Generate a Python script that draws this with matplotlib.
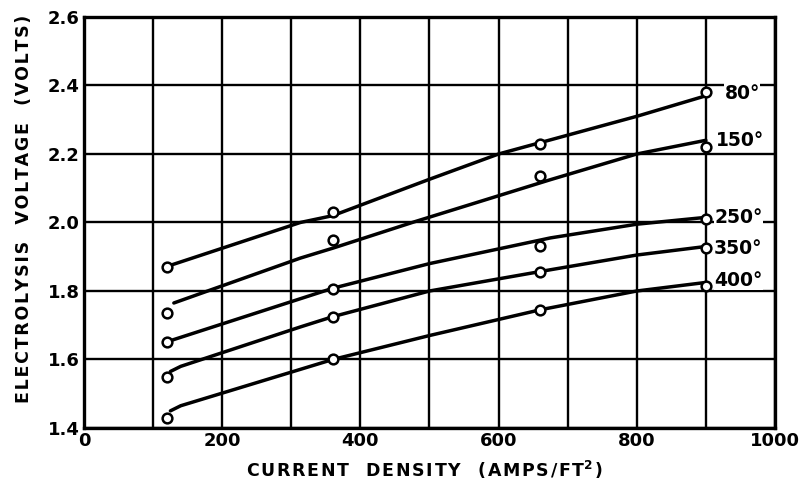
import matplotlib
matplotlib.use('Agg')
import matplotlib.pyplot as plt

# measured points (current density, voltage)
x_pts = [120, 360, 660, 900]
v80 = [1.87, 2.03, 2.23, 2.38]
v150 = [1.735, 1.95, 2.135, 2.22]
v250 = [1.65, 1.805, 1.93, 2.01]
v350 = [1.55, 1.725, 1.855, 1.925]
v400 = [1.43, 1.60, 1.745, 1.815]

# hand-drawn fit curves (knots)
c80_x = [125, 313, 360, 497, 600, 800, 900]
c80_y = [1.875, 2.0, 2.02, 2.124, 2.2, 2.31, 2.37]
c150_x = [130, 313, 360, 475, 675, 800, 900]
c150_y = [1.765, 1.896, 1.925, 2.0, 2.125, 2.2, 2.24]
c250_x = [125, 360, 500, 675, 800, 900]
c250_y = [1.655, 1.808, 1.88, 1.955, 1.995, 2.015]
c350_x = [125, 140, 313, 360, 500, 675, 800, 900]
c350_y = [1.565, 1.58, 1.695, 1.725, 1.80, 1.862, 1.905, 1.93]
c400_x = [125, 140, 360, 500, 660, 800, 900]
c400_y = [1.45, 1.465, 1.60, 1.67, 1.745, 1.80, 1.825]

labels = ['80°', '150°', '250°', '350°', '400°']
label_x = [927, 914, 912, 912, 912]
label_y = [2.378, 2.24, 2.016, 1.925, 1.832]

series = [(v80, c80_x, c80_y), (v150, c150_x, c150_y), (v250, c250_x, c250_y),
          (v350, c350_x, c350_y), (v400, c400_x, c400_y)]


def spaced(s):
    # old lettering guide look: a hair space between letters
    return '\u200a'.join(s)


fig = plt.figure(figsize=(8.01, 4.84), dpi=100)
ax = fig.add_axes([0.1049, 0.1157, 0.8626, 0.8492])

for v, cx, cy in series:
    ax.plot(cx, cy, color='black', lw=2.5, solid_capstyle='round', zorder=3)
    ax.plot(x_pts, v, 'o', ms=7, mfc='white', mec='black', mew=1.8, zorder=4)

for lab, lx, ly in zip(labels, label_x, label_y):
    ax.text(lx, ly, lab, ha='left', va='center', fontsize=13.5, fontweight='bold',
            bbox=dict(facecolor='white', edgecolor='none', pad=0.3), zorder=5)

ax.set_xlim(0, 1000)
ax.set_ylim(1.4, 2.6)
ax.set_xticks(range(0, 1001, 100))
ax.set_xticklabels(['0', '', '200', '', '400', '', '600', '', '800', '', '1000'])
ax.set_yticks([1.4, 1.6, 1.8, 2.0, 2.2, 2.4, 2.6])
ax.set_yticklabels(['1.4', '1.6', '1.8', '2.0', '2.2', '2.4', '2.6'])
ax.grid(True, color='black', lw=1.7)
ax.set_axisbelow(True)
ax.tick_params(length=0, labelsize=13, pad=3)
for t in ax.get_xticklabels() + ax.get_yticklabels():
    t.set_fontweight('bold')
for s in ax.spines.values():
    s.set_linewidth(2.4)

ax.set_xlabel(spaced('CURRENT  DENSITY  (AMPS/FT') + '$^\\mathbf{2}$' + '\u200a)',
              fontsize=12.5, fontweight='bold')
ax.xaxis.set_label_coords(0.492, -0.075)
ax.set_ylabel(spaced('ELECTROLYSIS  VOLTAGE  (VOLTS)'), fontsize=12.5, fontweight='bold')
ax.yaxis.set_label_coords(-0.074, 0.533)

fig.savefig('out.png', dpi=100)
